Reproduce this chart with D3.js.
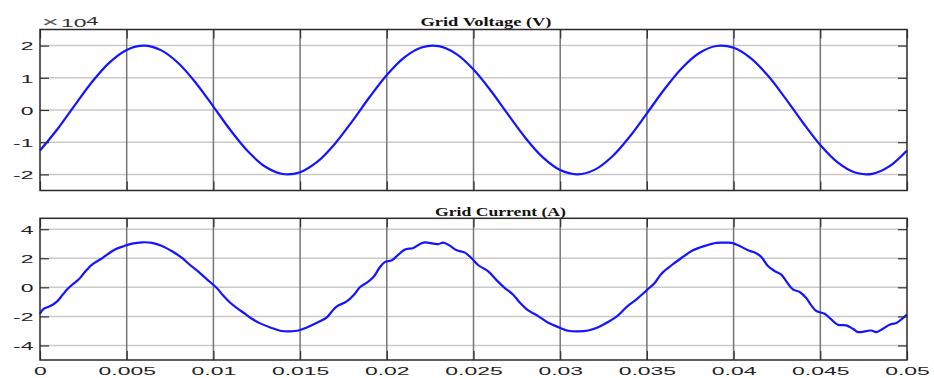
<!DOCTYPE html>
<html>
<head>
<meta charset="utf-8">
<script src="https://cdn.jsdelivr.net/npm/d3@7"></script>
<style>
  html, body { margin: 0; padding: 0; background: #fff; }
  svg { display: block; }
</style>
</head>
<body>
<svg id="chart" width="934" height="378"></svg>
<script>
// ---- time axis (seconds) ----
const timeTicks = [0, 0.005, 0.01, 0.015, 0.02, 0.025, 0.03, 0.035, 0.04, 0.045, 0.05];
const timeTickLabels = ["0", "0.005", "0.01", "0.015", "0.02", "0.025", "0.03", "0.035", "0.04", "0.045", "0.05"];

// ---- voltage axis (V), labelled in units of 10^4 ----
const voltageTicks = [-20000, -10000, 0, 10000, 20000];
const voltageTickLabels = ["-2", "-1", "0", "1", "2"];

// ---- current axis (A) ----
const currentTicks = [-4, -2, 0, 2, 4];
const currentTickLabels = ["-4", "-2", "0", "2", "4"];

// ---- grid voltage samples: time (ms) and value (V) ----
const voltageTimeMs = [0, 1, 2, 3, 4, 5, 6, 7, 8, 9, 10, 11, 12, 13, 14, 15, 16, 17, 18, 19, 20,
  21, 22, 23, 24, 25, 26, 27, 28, 29, 30, 31, 32, 33, 34, 35, 36, 37, 38, 39, 40,
  41, 42, 43, 44, 45, 46, 47, 48, 49, 50];
const voltageValues = [-12590, -5980, 1465, 8705, 14720, 18670, 19990, 18520, 14435, 8325, 1045,
  -6380, -12910, -17625, -19870, -19320, -16055, -10540, -3540, 3950, 10890,
  16300, 19420, 19815, 17425, 12585, 5980, -1465, -8705, -14720, -18670,
  -19990, -18520, -14435, -8325, -1045, 6380, 12910, 17625, 19870, 19320,
  16055, 10540, 3540, -3950, -10890, -16300, -19420, -19815, -17425, -12585];

// ---- grid current samples: time (ms) and value (A) ----
const currentTimeMs = [0, 0.22, 0.6, 0.99, 1.28, 1.57, 1.85, 2.24, 2.62, 3.0, 3.49, 3.87, 4.35, 4.83,
  5.31, 5.89, 6.46, 7.04, 7.62, 8.19, 8.67, 9.15, 9.63, 10.2, 10.59, 10.97, 11.36, 11.74,
  12.22, 12.7, 13.28, 13.85, 14.43, 14.91, 15.39, 15.97, 16.54, 16.83, 17.12, 17.69, 18.08,
  18.46, 18.85, 19.23, 19.61, 19.9, 20.29, 20.67, 21.05, 21.53, 22.11, 22.68, 22.97, 23.26,
  23.65, 24.03, 24.51, 24.9, 25.28, 25.85, 26.34, 26.81, 27.29, 27.68, 28.16, 28.73, 29.31,
  29.98, 30.46, 31.04, 31.61, 32.19, 32.76, 33.34, 33.82, 34.4, 34.98, 35.46, 35.84, 36.42,
  36.99, 37.66, 38.33, 39.01, 39.59, 39.87, 40.35, 40.83, 41.22, 41.6, 41.98, 42.37, 42.75,
  43.04, 43.42, 43.81, 44.19, 44.48, 44.77, 45.25, 45.63, 46.01, 46.5, 46.88, 47.17, 47.65,
  47.94, 48.23, 48.61, 48.99, 49.38, 49.67, 50.0];
const currentValues = [-1.82, -1.47, -1.29, -0.97, -0.55, -0.14, 0.18, 0.55, 1.10, 1.56, 1.93, 2.25, 2.62, 2.83,
  3.01, 3.10, 3.06, 2.85, 2.48, 2.02, 1.52, 1.06, 0.55, -0.05, -0.6, -1.06, -1.43, -1.75,
  -2.16, -2.48, -2.76, -2.99, -3.03, -2.97, -2.76, -2.44, -2.07, -1.66, -1.31, -0.97, -0.55,
  0.02, 0.32, 0.71, 1.4, 1.75, 1.86, 2.25, 2.6, 2.71, 3.08, 3.01, 2.97, 3.08,
  2.85, 2.55, 2.39, 1.98, 1.52, 1.10, 0.48, -0.05, -0.51, -1.06, -1.59, -1.98, -2.44,
  -2.78, -2.99, -3.03, -2.97, -2.74, -2.39, -1.93, -1.36, -0.83, -0.21, 0.32, 0.94, 1.52,
  2.02, 2.55, 2.85, 3.06, 3.07, 3.06, 2.85, 2.55, 2.39, 2.09, 1.47, 1.12, 0.87,
  0.41, -0.14, -0.32, -0.74, -1.24, -1.63, -1.82, -2.21, -2.57, -2.62, -2.85, -3.08, -3.01,
  -2.97, -3.08, -2.85, -2.57, -2.46, -2.21, -1.88];

// ---- layout ----
const svg = d3.select("#chart");
const plotLeft = 40, plotRight = 907;
const textStretch = 2.05;          // horizontally widened axis lettering
const tickFont = "'Liberation Sans', Arial, Helvetica, sans-serif";
const titleFont = "'Liberation Serif', 'Times New Roman', serif";

const x = d3.scaleLinear().domain([0, 0.05]).range([plotLeft, plotRight]);

const panels = [
  {
    title: "Grid Voltage (V)", titleX: 486, titleY: 26,
    top: 29.5, bottom: 190.5, domain: [-25000, 25000],
    ticks: voltageTicks, labels: voltageTickLabels,
    time: voltageTimeMs, values: voltageValues, showTimeLabels: false
  },
  {
    title: "Grid Current (A)", titleX: 500.5, titleY: 215.5,
    top: 218.3, bottom: 360, domain: [-5, 4.75],
    ticks: currentTicks, labels: currentTickLabels,
    time: currentTimeMs, values: currentValues, showTimeLabels: true
  }
];

panels.forEach(p => {
  const y = d3.scaleLinear().domain(p.domain).range([p.bottom, p.top]);
  const g = svg.append("g");

  // horizontal grid
  g.append("g").selectAll("line").data(p.ticks).join("line")
    .attr("x1", plotLeft).attr("x2", plotRight)
    .attr("y1", d => y(d)).attr("y2", d => y(d))
    .attr("stroke", "#c9c9c9").attr("stroke-width", 1.5);

  // vertical grid
  g.append("g").selectAll("line").data(timeTicks.slice(1, -1)).join("line")
    .attr("x1", d => x(d)).attr("x2", d => x(d))
    .attr("y1", p.top).attr("y2", p.bottom)
    .attr("stroke", "#767676").attr("stroke-width", 1.5);

  // waveform
  const pts = p.time.map((t, i) => [t / 1000, p.values[i]]);
  g.append("path")
    .datum(pts)
    .attr("fill", "none")
    .attr("stroke", "#1414ff")
    .attr("stroke-width", 2.2)
    .attr("stroke-linejoin", "round")
    .attr("d", d3.line().x(d => x(d[0])).y(d => y(d[1])).curve(d3.curveCatmullRom.alpha(0.5)));

  // inward ticks on all four sides
  const styleAxis = sel => {
    sel.select(".domain").remove();
    sel.selectAll(".tick line").attr("stroke", "#333").attr("stroke-width", 1.2);
  };

  const leftAxis = g.append("g").attr("transform", `translate(${plotLeft},0)`)
    .call(d3.axisLeft(y).tickValues(p.ticks).tickFormat((d, i) => p.labels[i])
      .tickSizeInner(-9).tickSizeOuter(0).tickPadding(6.5))
    .call(styleAxis);
  leftAxis.selectAll(".tick text")
    .attr("x", -6.5 / textStretch).attr("dy", null).attr("y", 4.3)
    .attr("transform", `scale(${textStretch},1)`)
    .attr("font-family", tickFont).attr("font-size", 11.2).attr("fill", "#222");

  g.append("g").attr("transform", `translate(${plotRight},0)`)
    .call(d3.axisRight(y).tickValues(p.ticks).tickFormat("")
      .tickSizeInner(-9).tickSizeOuter(0))
    .call(styleAxis);

  g.append("g").attr("transform", `translate(0,${p.top})`)
    .call(d3.axisTop(x).tickValues(timeTicks).tickFormat("")
      .tickSizeInner(-9).tickSizeOuter(0))
    .call(styleAxis);

  const bottomAxis = g.append("g").attr("transform", `translate(0,${p.bottom})`)
    .call(d3.axisBottom(x).tickValues(timeTicks)
      .tickFormat((d, i) => p.showTimeLabels ? timeTickLabels[i] : "")
      .tickSizeInner(-9).tickSizeOuter(0).tickPadding(6))
    .call(styleAxis);
  bottomAxis.selectAll(".tick text")
    .attr("dy", null).attr("y", 15.5)
    .attr("transform", `scale(${textStretch},1)`)
    .attr("font-family", tickFont).attr("font-size", 11.2).attr("fill", "#222");

  // axes box
  g.append("rect")
    .attr("x", plotLeft).attr("y", p.top)
    .attr("width", plotRight - plotLeft).attr("height", p.bottom - p.top)
    .attr("fill", "none").attr("stroke", "#2a2a2a").attr("stroke-width", 1.5);

  // panel title
  g.append("text")
    .attr("x", p.titleX).attr("y", p.titleY)
    .attr("text-anchor", "middle")
    .attr("font-family", titleFont).attr("font-weight", "bold")
    .attr("font-size", 13.5)
    .attr("textLength", 131).attr("lengthAdjust", "spacingAndGlyphs")
    .attr("fill", "#111")
    .text(p.title);
});

// exponent marker for the voltage axis: "×10⁴", each piece widened like the tick labels
const stretched = (px, py, str, size, fill) =>
  svg.append("text")
    .attr("transform", `translate(${px},${py}) scale(${textStretch},1)`)
    .attr("font-family", tickFont).attr("font-size", size).attr("fill", fill)
    .text(str);
stretched(42, 27, "\u00d7", 14, "#555");
stretched(61, 27, "10", 11.2, "#333");
stretched(86, 24.5, "4", 11, "#333");
</script>
</body>
</html>
